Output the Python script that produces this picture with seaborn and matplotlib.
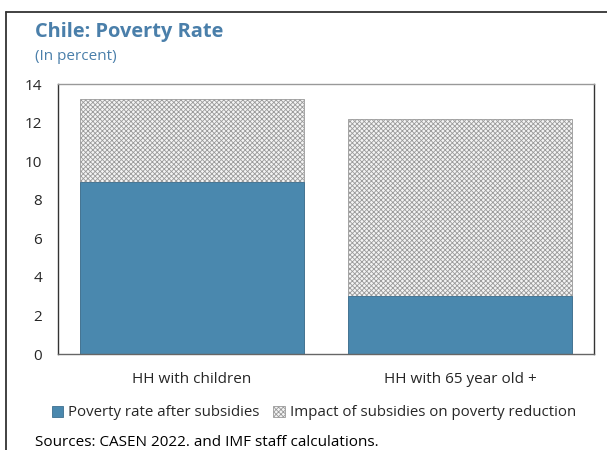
import matplotlib
matplotlib.use("Agg")
import matplotlib.pyplot as plt
import seaborn as sns
import pandas as pd
from matplotlib.patches import Patch
from matplotlib.lines import Line2D

categories = ["HH with children", "HH with 65 year old +"]
after_subsidies = [8.9, 3.0]
impact_subsidies = [4.3, 9.2]
yticks = [0, 2, 4, 6, 8, 10, 12, 14]

sns.set_theme(style="white")
plt.rcParams['font.family'] = ['Open Sans', 'DejaVu Sans']
plt.rcParams['hatch.color'] = '#8c8c8c'
plt.rcParams['hatch.linewidth'] = 0.6

df = pd.DataFrame({
    "cat": categories,
    "after": after_subsidies,
    "total": [a + b for a, b in zip(after_subsidies, impact_subsidies)],
})

fig = plt.figure(figsize=(6.07, 4.5), dpi=100)
ax = fig.add_axes([58/607, 1 - 354/450, (594-58)/607, (354-84)/450])

blue = "#4a88ae"
sns.barplot(data=df, x="cat", y="total", ax=ax, color="#f4f4f4", width=0.836,
            edgecolor="#9a9a9a", linewidth=0.6, hatch="xxxxxxx", saturation=1)
sns.barplot(data=df, x="cat", y="after", ax=ax, color=blue, width=0.836,
            edgecolor="#3d6f8f", linewidth=0.6, saturation=1)

ax.set_xlim(-0.5, 1.5)
ax.set_ylim(0, 14)
ax.set_yticks(yticks)
ax.set_yticklabels([str(t) for t in yticks], fontsize=11)
ax.set_xticks([0.5], minor=True)
ax.set_xticks([0, 1])
ax.set_xticklabels(categories, fontsize=11)
ax.tick_params(axis="x", which="major", length=0, pad=13)
ax.tick_params(axis="x", which="minor", direction="in", length=4, width=0.8, color="#333333")
ax.tick_params(axis="y", direction="in", length=4, width=0.8, color="#333333", pad=11.5)
ax.set_xlabel("")
ax.set_ylabel("")
for s in ax.spines.values():
    s.set_color("#333333")
    s.set_linewidth(1.0)
ax.spines["top"].set_color("#999999")
ax.spines["bottom"].set_color("#666666")

fig.text(35/607, 1 - 32/450, "Chile: Poverty Rate", fontsize=14.4, fontweight="bold",
         color="#4a7faa", va="center", ha="left")
fig.text(35/607, 1 - 56/450, "(In percent)", fontsize=11, color="#4a7faa",
         va="center", ha="left")

handles = [Patch(facecolor=blue, edgecolor="#3d6f8f", linewidth=0.6),
           Patch(facecolor="#f4f4f4", edgecolor="#9a9a9a", hatch="xxxxxxx", linewidth=0.6)]
fig.legend(handles, ["Poverty rate after subsidies", "Impact of subsidies on poverty reduction"],
           loc="center", bbox_to_anchor=(314/607, 1 - 413/450), ncol=2, frameon=False,
           fontsize=10.8, handlelength=0.75, handleheight=0.75, handletextpad=0.35,
           columnspacing=0.9)

fig.text(35/607, 1 - 443/450, "Sources: CASEN 2022. and IMF staff calculations.",
         fontsize=11, color="black", va="center", ha="left")

fig.add_artist(Line2D([6/607, 6/607], [0, 1 - 12/450], transform=fig.transFigure,
                      color="#333333", linewidth=1.3))
fig.add_artist(Line2D([6/607, 1], [1 - 12/450, 1 - 12/450], transform=fig.transFigure,
                      color="#333333", linewidth=1.3))

fig.savefig("out.png", dpi=100)
